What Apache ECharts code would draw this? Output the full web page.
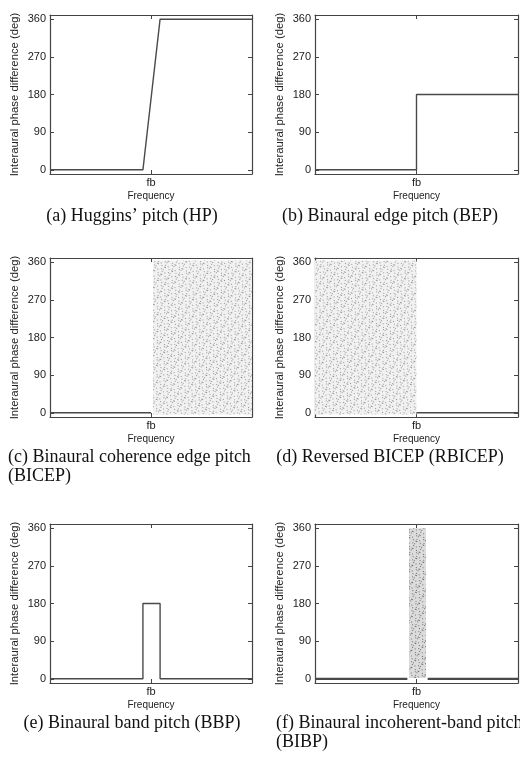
<!DOCTYPE html>
<html lang="en">
<head>
<meta charset="UTF-8">
<title>Interaural phase difference</title>
<script src="https://cdn.jsdelivr.net/npm/echarts@6/dist/echarts.min.js"></script>
<style>
  html, body { margin: 0; padding: 0; background: #fff; }
  #main { width: 520px; height: 758px; }
</style>
</head>
<body>
<div id="main"></div>
<script>
// ticks
const phaseTicks = [0, 90, 180, 270, 360];
const freqTickValues = [0.5];
const freqTickLabels = ['fb'];

// (a) Huggins' pitch
const hpFreq = [0, 0.46, 0.545, 1];
const hpPhase = [0, 0, 360, 360];
// (b) binaural edge pitch
const bepFreq = [0, 0.5, 0.5, 1];
const bepPhase = [0, 0, 180, 180];
// (c) BICEP: coherent below fb, noise above
const bicepFreq = [0, 0.5];
const bicepPhase = [0, 0];
const bicepNoise = [0.51, 1];
// (d) RBICEP: noise below fb, coherent above
const rbicepFreq = [0.5, 1];
const rbicepPhase = [0, 0];
const rbicepNoise = [0, 0.5];
// (e) binaural band pitch
const bbpFreq = [0, 0.46, 0.46, 0.545, 0.545, 1];
const bbpPhase = [0, 0, 180, 180, 0, 0];
// (f) BIBP: noise band around fb
const bibpLowFreq = [0, 0.455];
const bibpHighFreq = [0.555, 1];
const bibpPhase = [0, 0];
const bibpNoise = [0.463, 0.547];
// phase span covered by the noise
const edgeNoisePhase = [-4, 364];
const bandNoisePhase = [2, 360];

const captions = [
  '(a) Huggins\u2019 pitch (HP)',
  '(b) Binaural edge pitch (BEP)',
  '(c) Binaural coherence edge pitch\n(BICEP)',
  '(d) Reversed BICEP (RBICEP)',
  '(e) Binaural band pitch (BBP)',
  '(f) Binaural incoherent-band pitch\n(BIBP)'
];

const zip = (xs, ys) => xs.map((x, i) => [x, ys[i]]);

const colLeft = [50, 315], colWidth = [202, 203];
const rowTop = [15, 258, 524], plotH = 159;
const capX = [132, 390], capY = [217, 458, 724];
const axisColor = '#444';
const sans = 'Liberation Sans';

const grid = [], xAxis = [], yAxis = [], series = [], graphic = [];

for (let i = 0; i < 6; i++) {
  const c = i % 2, r = Math.floor(i / 2);
  grid.push({ left: colLeft[c], top: rowTop[r], width: colWidth[c], height: plotH });
  const tickStyle = { show: true, inside: true, length: 4, lineStyle: { color: axisColor } };
  const lineStyle = { show: true, onZero: false, lineStyle: { color: axisColor, width: 1.2 } };
  xAxis.push({
    type: 'value', gridIndex: i, min: 0, max: 1, position: 'bottom',
    name: 'Frequency', nameLocation: 'middle', nameGap: 17,
    nameTextStyle: { fontFamily: sans, fontSize: 10, color: '#222' },
    axisLine: lineStyle,
    axisTick: Object.assign({ customValues: freqTickValues }, tickStyle),
    axisLabel: {
      customValues: freqTickValues, margin: 3, fontFamily: sans, fontSize: 11, color: '#222',
      formatter: v => freqTickLabels[freqTickValues.indexOf(v)] || ''
    },
    splitLine: { show: false }
  });
  xAxis.push({
    type: 'value', gridIndex: i, min: 0, max: 1, position: 'top',
    axisLine: lineStyle,
    axisTick: Object.assign({ customValues: freqTickValues }, tickStyle),
    axisLabel: { show: false }, splitLine: { show: false }
  });
  yAxis.push({
    type: 'value', gridIndex: i, min: -10, max: 370, position: 'left',
    name: 'Interaural phase difference (deg)', nameLocation: 'middle', nameGap: 30,
    nameTextStyle: { fontFamily: sans, fontSize: 11.3, color: '#222' },
    axisLine: lineStyle,
    axisTick: Object.assign({ customValues: phaseTicks }, tickStyle),
    axisLabel: { customValues: phaseTicks, margin: 4, fontFamily: sans, fontSize: 11, color: '#222' },
    splitLine: { show: false }
  });
  yAxis.push({
    type: 'value', gridIndex: i, min: -10, max: 370, position: 'right',
    axisLine: lineStyle,
    axisTick: Object.assign({ customValues: phaseTicks }, tickStyle),
    axisLabel: { show: false }, splitLine: { show: false }
  });

  const twoLine = captions[i].indexOf('\n') >= 0;
  graphic.push({
    type: 'text',
    x: twoLine ? (c === 0 ? 8 : 276) : capX[c],
    y: capY[r] - 10,
    style: {
      text: captions[i], fill: '#111',
      font: '18px "Liberation Serif"', lineHeight: 19,
      textAlign: twoLine ? 'left' : 'center'
    }
  });
}

function line(i, freq, phase, width) {
  return {
    type: 'line', xAxisIndex: 2 * i, yAxisIndex: 2 * i,
    data: zip(freq, phase), showSymbol: false, silent: true,
    lineStyle: { color: '#4a4a4a', width: width || 1.4 }
  };
}

function noise(i, freqRange, phaseRange, dark) {
  return {
    type: 'custom', xAxisIndex: 2 * i, yAxisIndex: 2 * i, silent: true,
    data: [[freqRange[0], freqRange[1], phaseRange[0], phaseRange[1]]],
    renderItem: (params, api) => {
      const p0 = api.coord([api.value(0), api.value(3)]);
      const p1 = api.coord([api.value(1), api.value(2)]);
      return {
        type: 'rect',
        shape: { x: p0[0], y: p0[1], width: p1[0] - p0[0], height: p1[1] - p0[1] },
        style: {
          fill: dark ? '#dcdcdc' : '#f1f1f1',
          decal: {
            symbol: 'rect', symbolSize: 1,
            color: dark ? 'rgba(40,40,40,0.6)' : 'rgba(40,40,40,0.45)',
            dashArrayX: [[1, 2, 1, 4], [2, 3, 1, 2], [1, 5, 1, 1]],
            dashArrayY: [1, 2, 1, 1],
            rotation: 0.5
          }
        }
      };
    }
  };
}

series.push(line(0, hpFreq, hpPhase));
series.push(line(1, bepFreq, bepPhase));
series.push(noise(2, bicepNoise, edgeNoisePhase));
series.push(line(2, bicepFreq, bicepPhase));
series.push(noise(3, rbicepNoise, edgeNoisePhase));
series.push(line(3, rbicepFreq, rbicepPhase));
series.push(line(4, bbpFreq, bbpPhase));
series.push(noise(5, bibpNoise, bandNoisePhase, true));
series.push(line(5, bibpLowFreq, bibpPhase, 2.2));
series.push(line(5, bibpHighFreq, bibpPhase, 2.2));

const chart = echarts.init(document.getElementById('main'));
chart.setOption({
  animation: false,
  backgroundColor: '#fff',
  grid, xAxis, yAxis, series, graphic
});
</script>
</body>
</html>
